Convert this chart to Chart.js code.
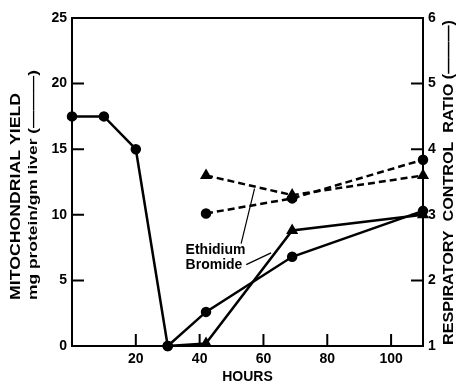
<!DOCTYPE html>
<html>
<head>
<meta charset="utf-8">
<script src="https://cdn.jsdelivr.net/npm/chart.js@4.4.0/dist/chart.umd.min.js"></script>
<style>
  body { margin: 0; background: #fff; }
  #wrap { width: 458px; height: 386px; }
</style>
</head>
<body>
<div id="wrap"><canvas id="chart" width="458" height="386"></canvas></div>
<script>
// Données (heures, rendement mitochondrial, rapport de contrôle respiratoire)
const hoursCircle = [0, 10, 20, 30, 42, 69, 110];
const yieldCircle = [17.5, 17.5, 15, 0, 2.6, 6.8, 10.3];

const hoursTriangle = [30, 42, 69, 110];
const yieldTriangle = [0, 0.2, 8.8, 10];

const hoursRcr = [42, 69, 110];
const rcrTriangle = [3.6, 3.3, 3.6];
const rcrCircle = [3.02, 3.25, 3.84];

const xTicks = [20, 40, 60, 80, 100];
const yLeftTicks = [5, 10, 15, 20];
const yRightTicks = [2, 3, 4, 5];

// Annotation "Ethidium Bromide" (coordonnées en unités des axes)
const labelLines = ['Ethidium', 'Bromide'];
const labelAnchor = [35.6, 7.3];
const pointerFrom = [[53.0, 7.8], [54.6, 6.2]];
const pointerTo = [[57.2, 12.0], [62.4, 7.1]];

const leftTitle = ['MITOCHONDRIAL YIELD', 'mg protein/gm liver (———)'];
const rightTitle = 'RESPIRATORY  CONTROL  RATIO (———)';
const xTitle = 'HOURS';

const toXY = (xs, ys) => xs.map((x, i) => ({ x: x, y: ys[i] }));

const FONT = 'Liberation Sans, Arial, sans-serif';

// Texte vertical étiré pour occuper la hauteur voulue (de bottom à top)
function verticalText(ctx, text, cx, top, bottom, font) {
    ctx.save();
    ctx.font = font;
    const w = ctx.measureText(text).width;
    ctx.translate(cx, (top + bottom) / 2);
    ctx.rotate(-Math.PI / 2);
    ctx.scale((bottom - top) / w, 1);
    ctx.textAlign = 'center';
    ctx.textBaseline = 'middle';
    ctx.fillText(text, 0, 0);
    ctx.restore();
}

// Cadre du haut, graduations vers l'intérieur, titres et annotation
const decorations = {
    id: 'decorations',
    afterDraw(chart) {
        const ctx = chart.ctx;
        const { x, y, y2 } = chart.scales;
        const area = chart.chartArea;
        const len = 12;
        ctx.save();
        ctx.strokeStyle = '#000';
        ctx.fillStyle = '#000';
        ctx.lineWidth = 2;
        ctx.beginPath();
        ctx.moveTo(area.left - 1, area.top);
        ctx.lineTo(area.right + 1, area.top);
        xTicks.forEach(v => {
            const px = x.getPixelForValue(v);
            ctx.moveTo(px, area.bottom);
            ctx.lineTo(px, area.bottom - len);
        });
        yLeftTicks.forEach(v => {
            const py = y.getPixelForValue(v);
            ctx.moveTo(area.left, py);
            ctx.lineTo(area.left + len, py);
        });
        yRightTicks.forEach(v => {
            const py = y2.getPixelForValue(v);
            ctx.moveTo(area.right, py);
            ctx.lineTo(area.right - len, py);
        });
        ctx.stroke();

        // flèches vers les courbes bromure d'éthidium
        ctx.lineWidth = 1.2;
        ctx.beginPath();
        pointerFrom.forEach((p, i) => {
            ctx.moveTo(x.getPixelForValue(p[0]), y.getPixelForValue(p[1]));
            ctx.lineTo(x.getPixelForValue(pointerTo[i][0]), y.getPixelForValue(pointerTo[i][1]));
        });
        ctx.stroke();

        ctx.font = 'bold 14px ' + FONT;
        ctx.textAlign = 'left';
        ctx.textBaseline = 'middle';
        const lx = x.getPixelForValue(labelAnchor[0]);
        const ly = y.getPixelForValue(labelAnchor[1]);
        labelLines.forEach((t, i) => ctx.fillText(t, lx, ly + i * 15));

        // titres des axes
        verticalText(ctx, leftTitle[0], 16, 93, 300, 'bold 14px ' + FONT);
        verticalText(ctx, leftTitle[1], 33, 70, 300, 'bold 13px ' + FONT);
        verticalText(ctx, rightTitle, 449, 20, 345, 'bold 14px ' + FONT);
        ctx.font = 'bold 14px ' + FONT;
        ctx.textAlign = 'center';
        ctx.textBaseline = 'middle';
        ctx.fillText(xTitle, (area.left + area.right) / 2, 377);
        ctx.restore();
    }
};

const tickFont = { family: FONT, size: 14, weight: 'bold' };

new Chart(document.getElementById('chart'), {
    type: 'line',
    data: {
        datasets: [
            {
                data: toXY(hoursCircle, yieldCircle),
                yAxisID: 'y',
                borderColor: '#000',
                backgroundColor: '#000',
                borderWidth: 2.5,
                pointRadius: 4,
                pointStyle: 'circle',
                clip: false
            },
            {
                data: toXY(hoursTriangle, yieldTriangle),
                yAxisID: 'y',
                borderColor: '#000',
                backgroundColor: '#000',
                borderWidth: 2.5,
                pointRadius: [4, 4.5, 4.5, 4.5],
                pointStyle: ['circle', 'triangle', 'triangle', 'triangle'],
                clip: false
            },
            {
                data: toXY(hoursRcr, rcrTriangle),
                yAxisID: 'y2',
                borderColor: '#000',
                backgroundColor: '#000',
                borderWidth: 2.5,
                borderDash: [7, 4],
                pointRadius: 4.5,
                pointStyle: 'triangle',
                clip: false
            },
            {
                data: toXY(hoursRcr, rcrCircle),
                yAxisID: 'y2',
                borderColor: '#000',
                backgroundColor: '#000',
                borderWidth: 2.5,
                borderDash: [7, 4],
                pointRadius: 4,
                pointStyle: 'circle',
                clip: false
            }
        ]
    },
    options: {
        responsive: false,
        animation: false,
        layout: { padding: { top: 18, right: 0, left: 0, bottom: 0 } },
        plugins: {
            legend: { display: false },
            tooltip: { enabled: false }
        },
        scales: {
            x: {
                type: 'linear',
                min: 0,
                max: 110,
                afterBuildTicks: s => { s.ticks = xTicks.map(v => ({ value: v })); },
                afterFit: s => { s.height = 40; },
                grid: { display: false, drawTicks: false },
                border: { color: '#000', width: 2 },
                ticks: { color: '#000', padding: 5, maxRotation: 0, font: tickFont }
            },
            y: {
                position: 'left',
                min: 0,
                max: 25,
                afterBuildTicks: s => { s.ticks = [0, 5, 10, 15, 20, 25].map(v => ({ value: v })); },
                afterFit: s => { s.width = 72; },
                grid: { display: false, drawTicks: false },
                border: { color: '#000', width: 2 },
                ticks: { color: '#000', padding: 5, font: tickFont }
            },
            y2: {
                position: 'right',
                min: 1,
                max: 6,
                afterBuildTicks: s => { s.ticks = [1, 2, 3, 4, 5, 6].map(v => ({ value: v })); },
                afterFit: s => { s.width = 35; },
                grid: { display: false, drawTicks: false },
                border: { color: '#000', width: 2 },
                ticks: { color: '#000', padding: 5, font: tickFont }
            }
        }
    },
    plugins: [decorations]
});
</script>
</body>
</html>
